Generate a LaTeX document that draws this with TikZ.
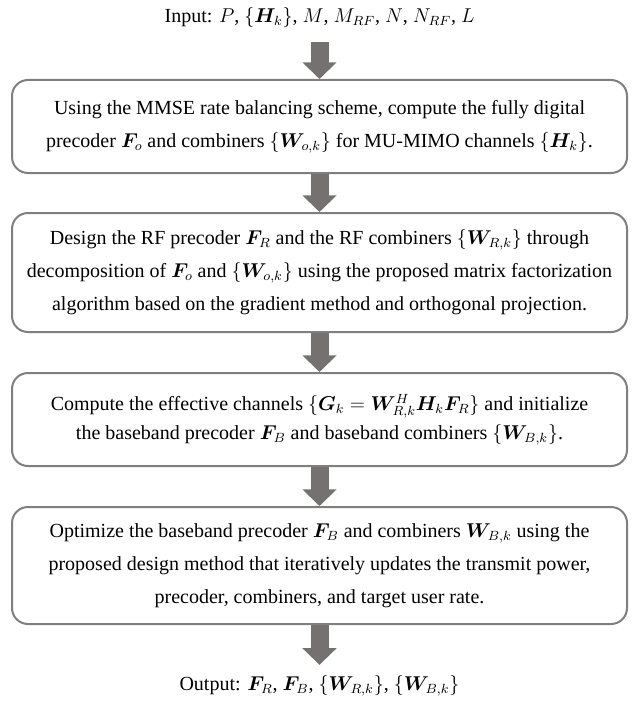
\documentclass[tikz,border=0pt]{standalone}
\usepackage{fontspec}
\setmainfont{Liberation Serif}
\usepackage{amsmath, bm}
\usetikzlibrary{arrows.meta, positioning}
\definecolor{boxgray}{RGB}{127,127,127}
\definecolor{arrowgray}{RGB}{118,113,113}

\begin{document}
\begin{tikzpicture}[x=0.6pt, y=-0.6pt,
    stepbox/.style={draw=boxgray, line width=1.2pt, rounded corners=9.6pt,
        minimum width=369pt, align=center, inner sep=0pt,
        font=\fontsize{12}{19.8}\selectfont},
    flow/.style={arrowgray, line width=10.8pt, -{Triangle[width=20pt,length=10pt]}},
    iolabel/.style={font=\fontsize{12}{14}\selectfont}]
    \useasboundingbox (0,0) rectangle (634,702);

    % Input and output
    \node[iolabel] (in) at (319.5,18) {Input: $P$, $\{\bm{H}_k\}$, $M$, $M_{RF}$, $N$, $N_{RF}$, $L$};
    \node[iolabel] (out) at (319.5,686) {Output: $\bm{F}_R$, $\bm{F}_B$, $\{\bm{W}_{R,k}\}$, $\{\bm{W}_{B,k}\}$};

    % Steps
    \node[stepbox, minimum height=55.8pt] (fd) at (319.5,126.5)
        {Using the MMSE rate balancing scheme, compute the fully digital\\
         precoder $\bm{F}_o$ and combiners $\{\bm{W}_{o,k}\}$ for MU-MIMO channels $\{\bm{H}_k\}$.};
    \node[stepbox, minimum height=71.4pt] (rf) at (319.5,272.5)
        {Design the RF precoder $\bm{F}_R$ and the RF combiners $\{\bm{W}_{R,k}\}$ through\\
         decomposition of $\bm{F}_o$ and $\{\bm{W}_{o,k}\}$ using the proposed matrix factorization\\
         algorithm based on the gradient method and orthogonal projection.};
    \node[stepbox, minimum height=55.8pt, font=\fontsize{12}{17.4}\selectfont] (eff) at (319.5,419.5)
        {Compute the effective channels $\{\bm{G}_k=\bm{W}_{R,k}^H\bm{H}_k\bm{F}_R\}$ and initialize\\
         the baseband precoder $\bm{F}_B$ and baseband combiners $\{\bm{W}_{B,k}\}$.};
    \node[stepbox, minimum height=70.2pt] (bb) at (319.5,565.5)
        {Optimize the baseband precoder $\bm{F}_B$ and combiners $\bm{W}_{B,k}$ using the\\
         proposed design method that iteratively updates the transmit power,\\
         precoder, combiners, and target user rate.};

    % Arrows
    \draw[flow, shorten <=5pt] (in) -- (fd);
    \draw[flow] (fd) -- (rf);
    \draw[flow] (rf) -- (eff);
    \draw[flow] (eff) -- (bb);
    \draw[flow, shorten >=3pt] (bb) -- (out);
\end{tikzpicture}
\end{document}
